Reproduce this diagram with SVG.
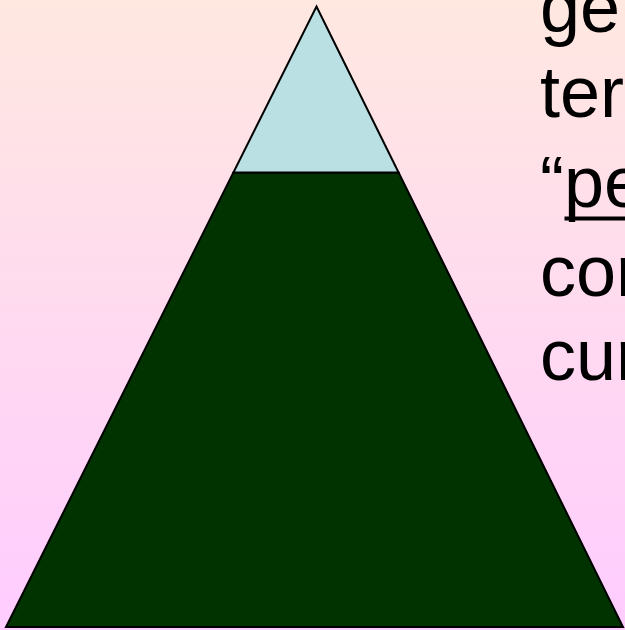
<svg xmlns="http://www.w3.org/2000/svg" width="625" height="630" viewBox="0 0 625 630">
  <defs>
    <linearGradient id="bg" x1="0" y1="0" x2="0" y2="1">
      <stop offset="0" stop-color="#FFE8E0"/>
      <stop offset="1" stop-color="#FFCCFF"/>
    </linearGradient>
  </defs>
  <style>
    .shape { stroke: #000000; stroke-width: 2; stroke-linejoin: miter; }
    .txt { font-family: "Liberation Sans", Arial, sans-serif; font-size: 72px; fill: #000000; }
    .ul { stroke: #000000; stroke-width: 4; }
  </style>
  <rect x="0" y="0" width="625" height="630" fill="url(#bg)"/>
  <g id="mountain">
    <g id="base">
      <polygon class="shape" points="233.4,172.5 398.6,172.5 623,627 6,627" fill="#003300"/>
    </g>
    <g id="peak">
      <polygon class="shape" points="316.5,6.5 398.6,172.5 233.4,172.5" fill="#BAE0E3"/>
    </g>
  </g>
  <g id="text">
    <text class="txt" x="540" y="32">ge</text>
    <text class="txt" x="540" y="117">ter</text>
    <text class="txt" x="540" y="207">“pe</text>
    <line class="ul" x1="564.5" y1="218.5" x2="625" y2="218.5"/>
    <text class="txt" x="540" y="296">cor</text>
    <text class="txt" x="540" y="380">cur</text>
  </g>
</svg>
